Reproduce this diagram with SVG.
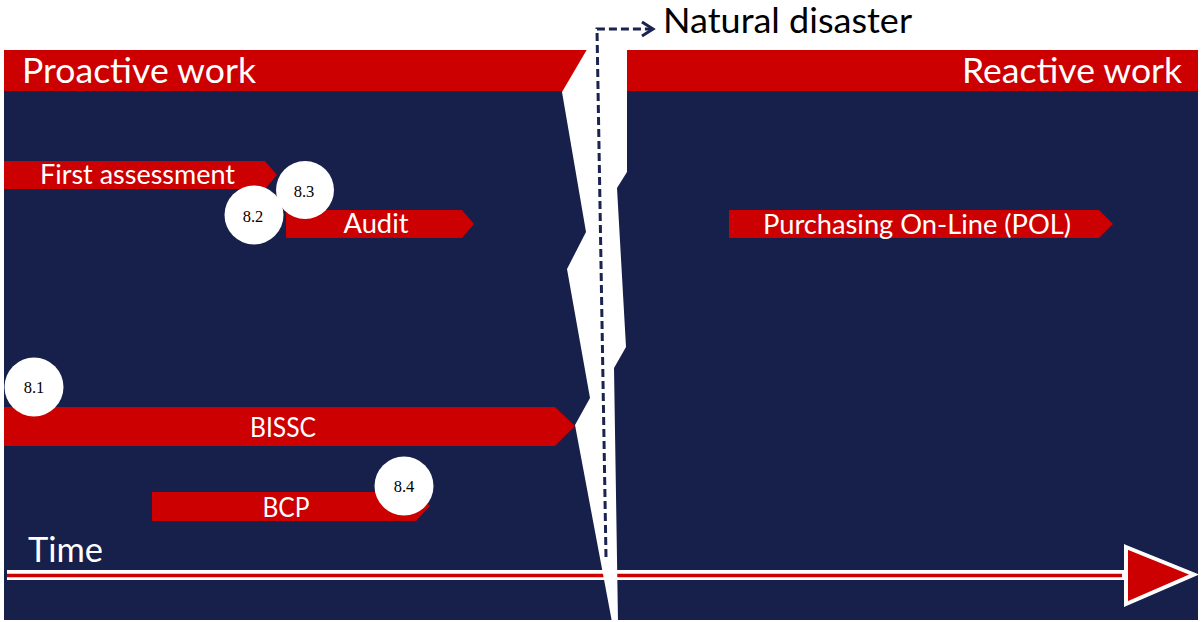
<svg xmlns="http://www.w3.org/2000/svg" width="1201" height="622" viewBox="0 0 1201 622">
  <style>
    .panel { fill: #171f4b; }
    .band { fill: #cc0000; }
    .bar { fill: #cc0000; }
    .head { font-family: Lato, "Liberation Sans", sans-serif; font-size: 35px; fill: #ffffff; }
    .lbl { font-family: Lato, "Liberation Sans", sans-serif; font-size: 27px; fill: #ffffff; text-anchor: middle; }
    .badge { fill: #ffffff; }
    .num { font-family: "Liberation Serif", serif; font-size: 16.5px; fill: #000000; text-anchor: middle; }
    .note { font-family: Lato, "Liberation Sans", sans-serif; font-size: 35px; fill: #000000; }
  </style>
  <defs>
    <marker id="chevron" viewBox="0 0 16 18" refX="13" refY="9" markerWidth="16" markerHeight="18" markerUnits="userSpaceOnUse" orient="auto">
      <path d="M2,2 L13,9 L2,16" fill="none" stroke="#1b2350" stroke-width="3" stroke-linejoin="miter"/>
    </marker>
  </defs>

  <rect width="1201" height="622" fill="#ffffff"/>

  <!-- background panel and header bands -->
  <g id="background">
    <rect class="panel" x="4" y="91" width="1194" height="529"/>
    <rect class="band" x="4" y="50" width="600" height="41"/>
    <rect class="band" x="610" y="50" width="588" height="41"/>
    <text class="head" x="22" y="83" textLength="234" lengthAdjust="spacingAndGlyphs">Proactive work</text>
    <text class="head" x="962" y="83" textLength="220" lengthAdjust="spacingAndGlyphs">Reactive work</text>
    <text class="head" x="28" y="562" font-size="33" textLength="75" lengthAdjust="spacingAndGlyphs">Time</text>
  </g>

  <!-- time axis -->
  <g id="time-axis">
    <line x1="7" y1="575" x2="1132" y2="575" stroke="#ffffff" stroke-width="10"/>
    <polygon points="1126,547 1194,574.5 1126,604" fill="#cc0000" stroke="#ffffff" stroke-width="4" stroke-linejoin="miter"/>
    <line x1="7" y1="575.5" x2="1122" y2="575.5" stroke="#cc0000" stroke-width="3.5"/>
  </g>

  <!-- activity bars -->
  <g id="first-assessment">
    <polygon class="bar" points="4,161 265,161 277,175 265,189 4,189"/>
    <text class="lbl" x="137.5" y="184" font-size="26" textLength="195" lengthAdjust="spacingAndGlyphs">First assessment</text>
  </g>
  <g id="audit">
    <polygon class="bar" points="286,210 462,210 474,224 462,238 286,238"/>
    <text class="lbl" x="376" y="233" font-size="26" textLength="65" lengthAdjust="spacingAndGlyphs">Audit</text>
  </g>
  <g id="pol">
    <polygon class="bar" points="729,210 1099,210 1113,224 1099,238 729,238"/>
    <text class="lbl" x="917" y="234" font-size="26" textLength="308" lengthAdjust="spacingAndGlyphs">Purchasing On-Line (POL)</text>
  </g>
  <g id="bissc">
    <polygon class="bar" points="4,407 555,407 575,426 555,446 4,446"/>
    <text class="lbl" x="283" y="437" textLength="66" lengthAdjust="spacingAndGlyphs">BISSC</text>
  </g>
  <g id="bcp">
    <polygon class="bar" points="152,492 416,492 430,506 416,521 152,521"/>
    <text class="lbl" x="286" y="517" textLength="47" lengthAdjust="spacingAndGlyphs">BCP</text>
  </g>

  <!-- milestone badges -->
  <g id="m81">
    <circle class="badge" cx="34" cy="387" r="29.5"/>
    <text class="num" x="34" y="393">8.1</text>
  </g>
  <g id="m82">
    <circle class="badge" cx="254" cy="215" r="29.5"/>
    <text class="num" x="253" y="222">8.2</text>
  </g>
  <g id="m83">
    <circle class="badge" cx="305" cy="190" r="29"/>
    <text class="num" x="304" y="197">8.3</text>
  </g>
  <g id="m84">
    <circle class="badge" cx="404" cy="486" r="29.5"/>
    <text class="num" x="404" y="492">8.4</text>
  </g>

  <!-- the break between proactive and reactive phases -->
  <g id="break">
    <polygon fill="#ffffff" points="589,46 562,92 586,232 567,269 590,398 575,425 612,622 618,622 614,368 626,347 617,188 627,172 627,46"/>
  </g>

  <!-- event marker -->
  <g id="connectors">
    <polyline points="606,557 597,29 653,29" fill="none" stroke="#1b2350" stroke-width="3" stroke-dasharray="8,4" marker-end="url(#chevron)"/>
  </g>
  <g id="natural-disaster">
    <text class="note" x="663" y="33" textLength="249" lengthAdjust="spacingAndGlyphs">Natural disaster</text>
  </g>
</svg>
